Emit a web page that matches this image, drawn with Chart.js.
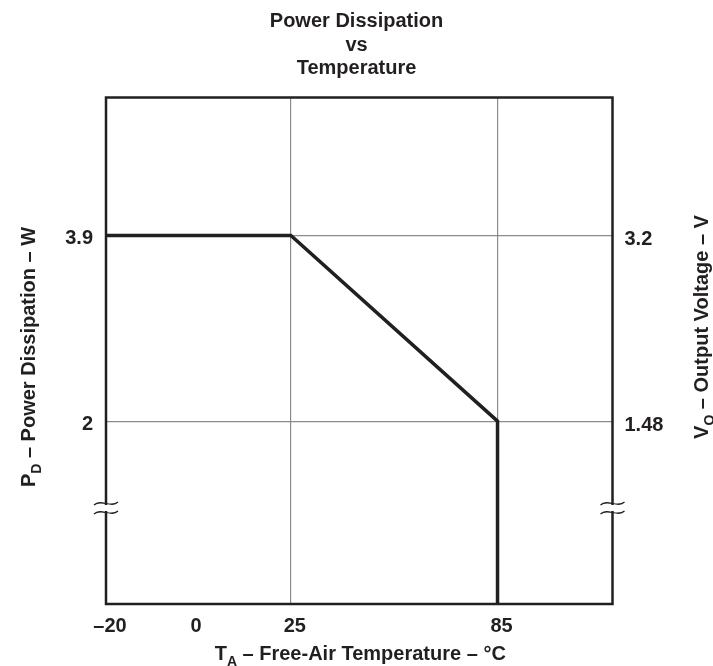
<!DOCTYPE html>
<html><head><meta charset="utf-8">
<script src="https://cdn.jsdelivr.net/npm/chart.js@4/dist/chart.umd.min.js"></script>
<style>html,body{margin:0;padding:0;background:#fff;}</style>
</head><body>
<canvas id="c" width="713" height="666"></canvas>
<script>
// ---- data ----
const temperatureC = [-20, 25, 85, 85];
const powerW = [3.9, 3.9, 2, 0];
const xTickValues = [-20, 0, 25, 85];
const xTickLabels = ['–20', '0', '25', '85'];
const xGridValues = [25, 85];
const leftTickValues = [3.9, 2];
const leftTickLabels = ['3.9', '2'];
const rightTickValues = [3.2, 1.48];
const rightTickLabels = ['3.2', '1.48'];
const breakValueW = 1.05;
const titleLines = ['Power Dissipation', 'vs', 'Temperature'];

// ---- schematic (non-linear) axis mapping: value knots -> fraction of axis ----
const axisMaps = {
  x:  { knots: [-20, 0, 25, 85, 118.4], fracs: [0, 0.170, 0.365, 0.773, 1] },
  y:  { knots: [0, 2, 3.9, 5.31],       fracs: [0, 0.361, 0.7275, 1] },
  y2: { knots: [0, 1.48, 3.2, 4.48],    fracs: [0, 0.361, 0.7275, 1] }
};

class PiecewiseScale extends Chart.LinearScale {
  getPixelForValue(value) {
    const m = axisMaps[this.id], k = m.knots, f = m.fracs;
    let i = 0;
    while (i < k.length - 2 && value > k[i + 1]) i++;
    const t = (value - k[i]) / (k[i + 1] - k[i]);
    return this.getPixelForDecimal(f[i] + t * (f[i + 1] - f[i]));
  }
  getValueForPixel(pixel) {
    const m = axisMaps[this.id], k = m.knots, f = m.fracs;
    const d = this.getDecimalForPixel(pixel);
    let i = 0;
    while (i < f.length - 2 && d > f[i + 1]) i++;
    const t = (d - f[i]) / (f[i + 1] - f[i]);
    return k[i] + t * (k[i + 1] - k[i]);
  }
}
PiecewiseScale.id = 'piecewise';
PiecewiseScale.defaults = Chart.LinearScale.defaults;
Chart.register(PiecewiseScale);

const INK = '#231f20';
const GRID = '#8c8c8c';
const FONT = 'Liberation Sans, Arial, Helvetica, sans-serif';

function drawParts(ctx, parts, size) {
  const subSize = Math.round(size * 0.72);
  let total = 0;
  parts.forEach(p => {
    ctx.font = 'bold ' + (p.sub ? subSize : size) + 'px ' + FONT;
    p.w = ctx.measureText(p.t).width;
    total += p.w;
  });
  let x = -total / 2;
  parts.forEach(p => {
    ctx.font = 'bold ' + (p.sub ? subSize : size) + 'px ' + FONT;
    ctx.fillText(p.t, x, p.sub ? size * 0.3 : 0);
    x += p.w;
  });
}

const framePlugin = {
  id: 'frame',
  afterDraw(chart) {
    const ctx = chart.ctx, a = chart.chartArea;
    ctx.save();
    ctx.strokeStyle = INK;
    ctx.lineWidth = 2.5;
    ctx.strokeRect(a.left, a.top, a.right - a.left, a.bottom - a.top);
    // axis breaks
    const yb = chart.scales.y.getPixelForValue(breakValueW);
    [a.left, a.right].forEach(x => {
      ctx.fillStyle = '#fff';
      ctx.fillRect(x - 3, yb - 3, 6, 6);
      ctx.strokeStyle = INK;
      ctx.lineWidth = 1.2;
      [-4.5, 4.5].forEach(dy => {
        const y = yb + dy;
        ctx.beginPath();
        ctx.moveTo(x - 12, y + 1.5);
        ctx.bezierCurveTo(x - 5, y - 5, x + 5, y + 5, x + 12, y - 1.5);
        ctx.stroke();
      });
    });
    // axis titles
    ctx.fillStyle = INK;
    ctx.textBaseline = 'alphabetic';
    ctx.textAlign = 'left';
    const size = 20;
    ctx.save();
    ctx.translate((a.left + a.right) / 2 + 1, 660);
    drawParts(ctx, [{t: 'T'}, {t: 'A', sub: true}, {t: ' – Free-Air Temperature – °C'}], size);
    ctx.restore();
    ctx.save();
    ctx.translate(35, 357);
    ctx.rotate(-Math.PI / 2);
    drawParts(ctx, [{t: 'P'}, {t: 'D', sub: true}, {t: ' – Power Dissipation – W'}], size);
    ctx.restore();
    ctx.save();
    ctx.translate(708, 327);
    ctx.rotate(-Math.PI / 2);
    drawParts(ctx, [{t: 'V'}, {t: 'O', sub: true}, {t: ' – Output Voltage – V'}], size);
    ctx.restore();
    ctx.restore();
  }
};

const tickFont = { family: FONT, size: 20, weight: 'bold' };

new Chart(document.getElementById('c'), {
  type: 'line',
  data: {
    datasets: [{
      data: temperatureC.map((t, i) => ({ x: t, y: powerW[i] })),
      borderColor: INK,
      borderWidth: 3.5,
      pointRadius: 0,
      tension: 0,
      fill: false,
      borderJoinStyle: 'miter',
      yAxisID: 'y'
    }]
  },
  options: {
    responsive: false,
    devicePixelRatio: 1,
    animation: false,
    events: [],
    layout: { padding: 0 },
    plugins: {
      legend: { display: false },
      tooltip: { enabled: false },
      title: {
        display: true,
        text: titleLines,
        color: INK,
        font: { family: FONT, size: 20, weight: 'bold', lineHeight: '23.5px' },
        padding: { top: 10, bottom: 17 }
      }
    },
    scales: {
      x: {
        type: 'piecewise',
        min: -20, max: 118.4,
        afterBuildTicks: s => { s.ticks = xTickValues.map(v => ({ value: v })); },
        afterFit: s => { s.height = 62; },
        ticks: {
          callback: (v, i) => xTickLabels[i],
          color: INK, font: tickFont, padding: 10, labelOffset: 4,
          autoSkip: false, maxRotation: 0
        },
        grid: {
          color: c => (c.tick && xGridValues.includes(c.tick.value)) ? GRID : 'rgba(0,0,0,0)',
          lineWidth: 1.2, drawTicks: false
        },
        border: { display: false }
      },
      y: {
        type: 'piecewise',
        position: 'left',
        min: 0, max: 5.31,
        afterBuildTicks: s => { s.ticks = leftTickValues.map(v => ({ value: v })); },
        afterFit: s => { s.width = 106; },
        ticks: {
          callback: (v, i) => leftTickLabels[i],
          color: INK, font: tickFont, padding: 13, labelOffset: 3, autoSkip: false
        },
        grid: { color: GRID, lineWidth: 1.2, drawTicks: false },
        border: { display: false }
      },
      y2: {
        type: 'piecewise',
        position: 'right',
        min: 0, max: 4.48,
        afterBuildTicks: s => { s.ticks = rightTickValues.map(v => ({ value: v })); },
        afterFit: s => { s.width = 100.5; },
        ticks: {
          callback: (v, i) => rightTickLabels[i],
          color: INK, font: tickFont, padding: 12, labelOffset: 4, autoSkip: false
        },
        grid: { display: false, drawTicks: false },
        border: { display: false }
      }
    }
  },
  plugins: [framePlugin]
});
</script>
</body></html>
